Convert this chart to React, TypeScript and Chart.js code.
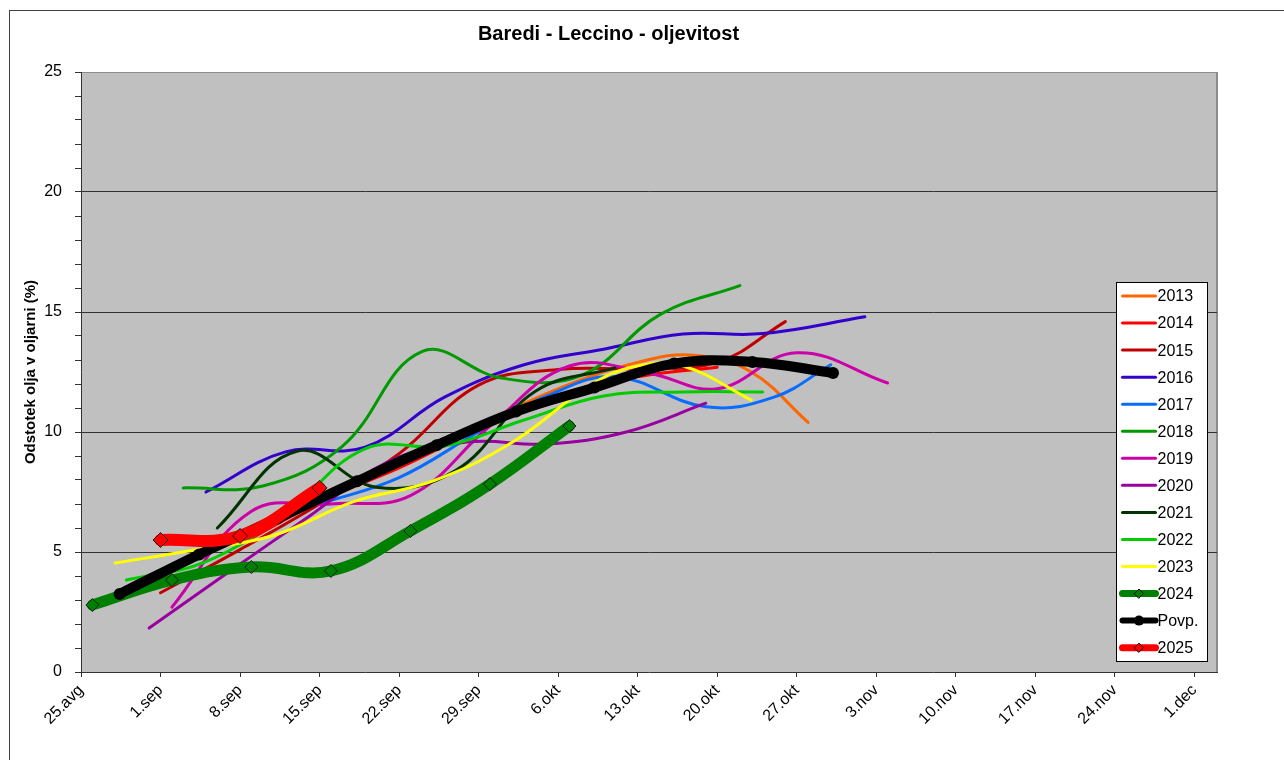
import React, { useEffect, useRef } from 'react';
import { Chart, registerables } from 'chart.js';

Chart.register(...registerables);

const FONT = '"Liberation Sans", Arial, Helvetica, sans-serif';

// X axis: days since 25 Aug, major unit 7 days
const xTickLabels = ['25.avg', '1.sep', '8.sep', '15.sep', '22.sep', '29.sep', '6.okt', '13.okt', '20.okt', '27.okt', '3.nov', '10.nov', '17.nov', '24.nov', '1.dec'];
const xMin = 0;
const xMax = 100;
const yMin = 0;
const yMax = 25;

const seriesNames = ['2013', '2014', '2015', '2016', '2017', '2018', '2019', '2020', '2021', '2022', '2023', '2024', 'Povp.', '2025'];
const seriesColors = ['#FF6600', '#FF0000', '#C00000', '#3300CC', '#0A6CFF', '#009900', '#CC00A8', '#9900A0', '#003300', '#00CC00', '#FFFF00', '#008000', '#000000', '#FF0000'];

const days2013 = [35, 42, 49, 54, 59, 64];
const vals2013 = [10.3, 11.8, 12.9, 13.2, 12.5, 10.4];

const days2014 = [14, 21, 28, 35, 42, 49, 56];
const vals2014 = [5.3, 7.1, 8.5, 10.1, 11.4, 12.3, 12.7];

const days2015 = [7, 14, 21, 28, 35, 42, 49, 56, 62];
const vals2015 = [3.3, 5.1, 7.0, 9.1, 11.95, 12.6, 12.65, 12.9, 14.6];

const days2016 = [11, 18, 25, 32, 39, 46, 53, 60, 69];
const vals2016 = [7.5, 9.17, 9.37, 11.45, 12.8, 13.45, 14.08, 14.1, 14.8];

const days2017 = [21, 28, 35, 41, 47, 55, 61, 66];
const vals2017 = [7.0, 8.1, 10.0, 11.5, 12.3, 11.05, 11.45, 12.8];

const days2018 = [9, 16, 23, 30, 37, 44, 51, 58];
const vals2018 = [7.67, 7.75, 9.4, 13.35, 12.25, 12.35, 14.9, 16.1];

const days2019 = [8, 15, 22, 29, 36, 43, 50, 56, 63, 71];
const vals2019 = [2.7, 6.7, 7.0, 7.35, 10.25, 12.75, 12.45, 11.8, 13.3, 12.04];

const days2020 = [6, 13, 20, 27, 34, 41, 48, 55];
const vals2020 = [1.83, 4.17, 6.46, 8.75, 9.58, 9.5, 10.0, 11.2];

const days2021 = [12, 19, 26, 33, 40, 47];
const vals2021 = [6.0, 9.2, 7.7, 8.4, 11.7, 12.67];

const days2022 = [4, 11, 18, 25, 32, 39, 46, 53, 60];
const vals2022 = [3.83, 4.6, 6.6, 9.3, 9.42, 10.5, 11.5, 11.67, 11.67];

const days2023 = [3, 10, 17, 24, 31, 38, 45, 49, 53, 59];
const vals2023 = [4.54, 5.08, 5.7, 7.1, 7.96, 9.58, 12.0, 12.75, 12.75, 11.33];

const days2024 = [1, 8, 15, 22, 29, 36, 43];
const vals2024 = [2.79, 3.83, 4.375, 4.21, 5.875, 7.83, 10.25];

const daysPovp = [3.4, 10.4, 17.3, 24.3, 31.3, 38.3, 45.2, 52.2, 59.1, 66.2];
const valsPovp = [3.25, 4.9, 6.4, 7.95, 9.45, 10.85, 11.85, 12.85, 12.92, 12.46];

const days2025 = [7, 14, 21];
const vals2025 = [5.5, 5.67, 7.67];

const allDays = [days2013, days2014, days2015, days2016, days2017, days2018, days2019, days2020, days2021, days2022, days2023, days2024, daysPovp, days2025];
const allVals = [vals2013, vals2014, vals2015, vals2016, vals2017, vals2018, vals2019, vals2020, vals2021, vals2022, vals2023, vals2024, valsPovp, vals2025];

const lineWidths = [3, 3, 3, 3, 3, 3, 3, 3, 3, 3, 3, 11, 10, 12];
const legendLineWidths = [3, 3, 3, 3, 3, 3, 3, 3, 3, 3, 3, 7, 6, 7];
const pointStyles: (string | false)[] = [false, false, false, false, false, false, false, false, false, false, false, 'rectRot', 'circle', 'rectRot'];
const pointRadii = [0, 0, 0, 0, 0, 0, 0, 0, 0, 0, 0, 6.5, 6, 7.5];

const backgroundPlugin = {
  id: 'plotBackground',
  beforeDraw(chart: any) {
    const { ctx, chartArea: a, width, height } = chart;
    ctx.save();
    ctx.fillStyle = '#FFFFFF';
    ctx.fillRect(0, 0, width, height);
    ctx.strokeStyle = '#404040';
    ctx.lineWidth = 1;
    ctx.strokeRect(9.5, 10.5, width + 20, height + 20);
    ctx.fillStyle = '#C0C0C0';
    ctx.fillRect(a.left, a.top, a.right - a.left, a.bottom - a.top);
    ctx.strokeStyle = '#8C8C8C';
    ctx.lineWidth = 1;
    ctx.beginPath();
    ctx.moveTo(a.left, a.top + 0.5);
    ctx.lineTo(a.right, a.top + 0.5);
    ctx.stroke();
    ctx.lineWidth = 2;
    ctx.beginPath();
    ctx.moveTo(a.right, a.top);
    ctx.lineTo(a.right, a.bottom);
    ctx.stroke();
    ctx.restore();
  },
};

const legendPlugin = {
  id: 'boxLegend',
  afterDraw(chart: any) {
    const { ctx, chartArea: a } = chart;
    const x0 = a.right - 101 + 0.5;
    const y0 = 282.5;
    const w = 91;
    const h = 379;
    ctx.save();
    ctx.fillStyle = '#FFFFFF';
    ctx.fillRect(x0, y0, w, h);
    ctx.strokeStyle = '#000000';
    ctx.lineWidth = 1;
    ctx.strokeRect(x0, y0, w, h);
    ctx.font = `16px ${FONT}`;
    ctx.textBaseline = 'middle';
    ctx.textAlign = 'left';
    chart.data.datasets.forEach((ds: any, i: number) => {
      const cy = 296 + i * 27.05;
      const lx1 = x0 + 6;
      const lx2 = x0 + 39;
      ctx.strokeStyle = ds.borderColor;
      ctx.lineWidth = legendLineWidths[i];
      ctx.lineCap = 'round';
      ctx.beginPath();
      ctx.moveTo(lx1, cy);
      ctx.lineTo(lx2, cy);
      ctx.stroke();
      const ps = pointStyles[i];
      const mx = (lx1 + lx2) / 2;
      if (ps === 'rectRot') {
        const r = 4.5;
        ctx.fillStyle = ds.borderColor;
        ctx.strokeStyle = '#000000';
        ctx.lineWidth = 1;
        ctx.beginPath();
        ctx.moveTo(mx - r, cy);
        ctx.lineTo(mx, cy - r);
        ctx.lineTo(mx + r, cy);
        ctx.lineTo(mx, cy + r);
        ctx.closePath();
        ctx.fill();
        ctx.stroke();
      } else if (ps === 'circle') {
        ctx.fillStyle = '#000000';
        ctx.beginPath();
        ctx.arc(mx, cy, 5, 0, Math.PI * 2);
        ctx.fill();
      }
      ctx.fillStyle = '#000000';
      ctx.fillText(ds.label, lx2 + 2, cy + 1);
    });
    ctx.restore();
  },
};

export default function App() {
  const canvasRef = useRef<HTMLCanvasElement | null>(null);

  useEffect(() => {
    if (!canvasRef.current) return;
    const n = seriesNames.length;
    const datasets = seriesNames.map((name, i) => ({
      label: name,
      data: allDays[i].map((d, j) => ({ x: d, y: allVals[i][j] })),
      borderColor: seriesColors[i],
      backgroundColor: seriesColors[i],
      borderWidth: lineWidths[i],
      borderCapStyle: 'round',
      borderJoinStyle: 'round',
      tension: 0.4,
      fill: false,
      order: n - i,
      pointStyle: pointStyles[i] || 'circle',
      pointRadius: pointRadii[i],
      pointHoverRadius: pointRadii[i],
      pointBackgroundColor: seriesColors[i],
      pointBorderColor: i === n - 2 ? '#000000' : '#1A1A1A',
      pointBorderWidth: i === n - 2 ? 0 : 1,
    }));

    const chart = new Chart(canvasRef.current, {
      type: 'line',
      data: { datasets } as any,
      options: {
        responsive: false,
        animation: false,
        events: [],
        layout: { padding: { left: 0, right: 67, top: 0, bottom: 0 } },
        plugins: {
          legend: { display: false },
          tooltip: { enabled: false },
          title: {
            display: true,
            text: 'Baredi - Leccino - oljevitost',
            color: '#000000',
            font: { family: FONT, size: 20, weight: 'bold' },
            padding: { top: 22, bottom: 26 },
          },
        },
        scales: {
          x: {
            type: 'linear',
            min: xMin,
            max: xMax,
            afterBuildTicks: (s: any) => {
              s.ticks = xTickLabels.map((_, i) => ({ value: i * 7 }));
            },
            afterFit: (s: any) => {
              s.height = 88;
            },
            ticks: {
              callback: (_v: any, index: number) => xTickLabels[index] ?? '',
              autoSkip: false,
              maxRotation: 45,
              minRotation: 45,
              color: '#000000',
              font: { family: FONT, size: 16 },
              padding: 4,
            },
            grid: { drawOnChartArea: false, drawTicks: true, tickLength: 5, color: '#333333' },
            border: { color: '#333333', width: 1 },
          },
          y: {
            type: 'linear',
            min: yMin,
            max: yMax,
            afterBuildTicks: (s: any) => {
              const t = [];
              for (let v = yMin; v <= yMax; v += 1) t.push({ value: v });
              s.ticks = t;
            },
            afterFit: (s: any) => {
              s.width = 81;
            },
            ticks: {
              callback: (v: any) => (Number(v) % 5 === 0 ? String(v) : ''),
              autoSkip: false,
              color: '#000000',
              font: { family: FONT, size: 16 },
              padding: 13,
            },
            grid: {
              drawTicks: true,
              tickLength: 6,
              color: (c: any) => {
                const v = c.tick ? c.tick.value : -1;
                return v % 5 === 0 && v !== yMin && v !== yMax ? '#333333' : 'rgba(0,0,0,0)';
              },
              tickColor: '#333333',
            },
            border: { color: '#333333', width: 1 },
            title: {
              display: true,
              text: 'Odstotek olja v oljarni (%)',
              color: '#000000',
              font: { family: FONT, size: 15, weight: 'bold' },
              padding: { top: 22, bottom: 0 },
            },
          },
        },
      } as any,
      plugins: [backgroundPlugin, legendPlugin],
    });
    return () => chart.destroy();
  }, []);

  return (
    <div style={{ position: 'absolute', left: 0, top: 0, width: 1284, height: 760, background: '#fff' }}>
      <canvas ref={canvasRef} width={1284} height={760} style={{ display: 'block', width: 1284, height: 760 }} />
    </div>
  );
}
